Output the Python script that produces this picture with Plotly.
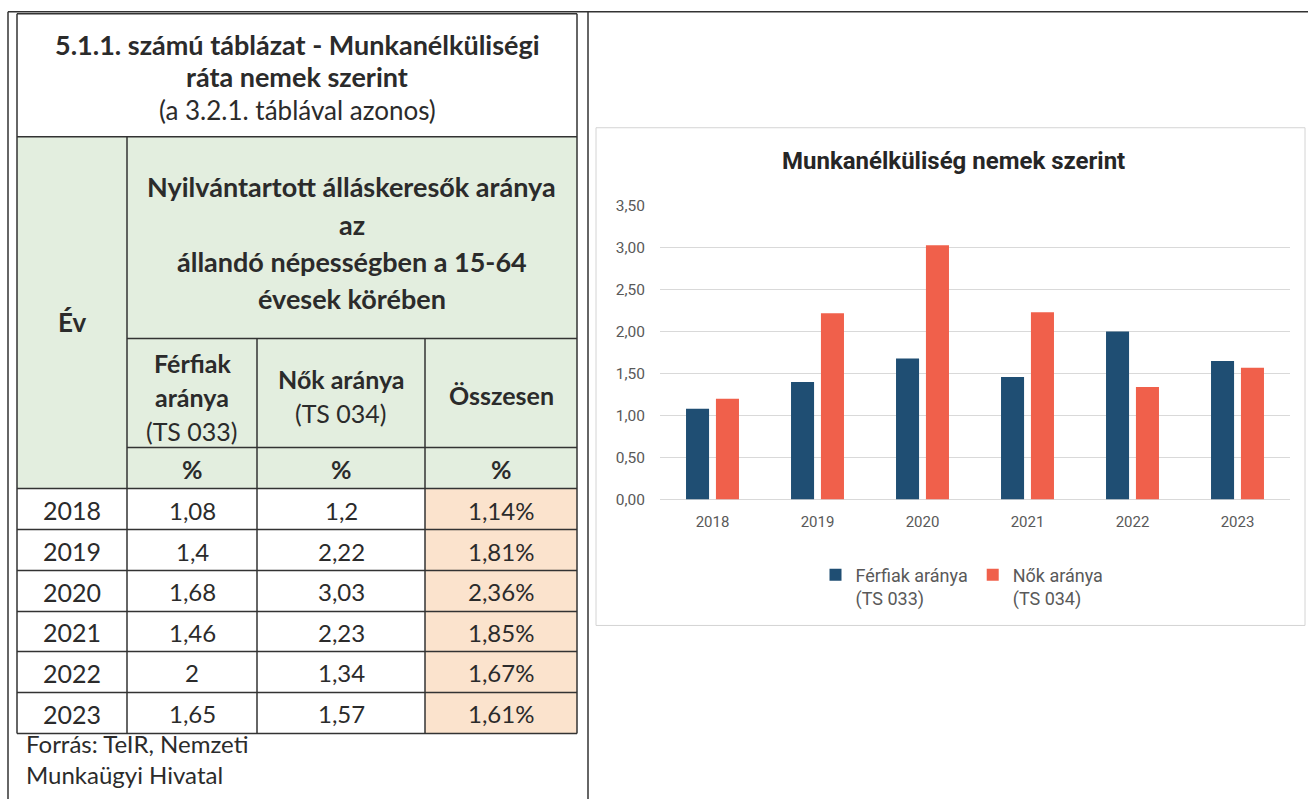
import plotly.graph_objects as go

# ---------------- data ----------------
years = ["2018", "2019", "2020", "2021", "2022", "2023"]
ferfiak = [1.08, 1.4, 1.68, 1.46, 2, 1.65]
nok = [1.2, 2.22, 3.03, 2.23, 1.34, 1.57]
osszesen = [1.14, 1.81, 2.36, 1.85, 1.67, 1.61]
y_tick_vals = [0, 0.5, 1.0, 1.5, 2.0, 2.5, 3.0, 3.5]

series_names = ["Férfiak aránya<br>(TS 033)", "Nők aránya<br>(TS 034)"]
chart_title = "Munkanélküliség nemek szerint"
table_title = ["5.1.1. számú táblázat - Munkanélküliségi", "ráta nemek szerint"]
table_subtitle = "(a 3.2.1. táblával azonos)"
header_main = ["Nyilvántartott álláskeresők aránya", "az",
               "állandó népességben a 15-64", "évesek körében"]
source_lines = ["Forrás: TeIR, Nemzeti", "Munkaügyi Hivatal"]

# ---------------- styling ----------------
W, H = 1308, 799
BLUE = "#1F4E73"
RED = "#F0604B"
GREEN = "#E3EEDF"
ORANGE = "#FBE3CD"
LINE = "#333333"
TXT = "#2b2b2b"
TFONT = "Lato, 'Open Sans', sans-serif"
CFONT = "Roboto, 'Liberation Sans', sans-serif"

# vertical calibration of the captured picture
SY, OY = 0.978, 8.2


def X(p):
    return p / W


def Y(p):
    return 1 - ((p - OY) / SY) / H


fig = go.Figure()
for vals, name, col in [(ferfiak, series_names[0], BLUE), (nok, series_names[1], RED)]:
    fig.add_trace(go.Bar(x=years, y=vals, name=name, marker_color=col,
                         marker_line_width=0, hoverinfo="x+y"))

shapes = []
ann = []


def line(x0, y0, x1, y1, w=1.5, c=LINE):
    shapes.append(dict(type="line", xref="paper", yref="paper",
                       x0=X(x0), y0=Y(y0), x1=X(x1), y1=Y(y1),
                       line=dict(color=c, width=w), layer="above"))


def rect(x0, y0, x1, y1, fill, lc="rgba(0,0,0,0)", lw=0):
    shapes.append(dict(type="rect", xref="paper", yref="paper",
                       x0=X(x0), y0=Y(y0), x1=X(x1), y1=Y(y1),
                       fillcolor=fill, line=dict(color=lc, width=lw), layer="below"))


def text(x, y, s, size=24, bold=False, anchor="center", color=TXT, font=TFONT):
    if bold:
        s = "<b>" + s + "</b>"
    ann.append(dict(xref="paper", yref="paper", x=X(x), y=Y(y), text=s,
                    showarrow=False, xanchor=anchor, yanchor="middle", borderpad=0,
                    font=dict(family=font, size=size, color=color)))


# ---------- table geometry ----------
cols = [17, 127, 257, 425, 577]
top, title_b, h1_b, h2_b, pct_b = 13, 136, 338, 447, 488
row_edges = [488, 529, 570, 611, 651, 692, 733]

rect(cols[0], title_b, cols[4], pct_b, GREEN)
for i in range(len(years)):
    rect(cols[3], row_edges[i], cols[4], row_edges[i + 1], ORANGE)

# chart box
rect(596, 127, 1305, 625, "white", lc="#d4d4d4", lw=1)

# outer frame
line(8, 11, 1308, 11, w=1.5)
line(8, 11, 8, 815, w=1.5)
line(588, 11, 588, 815, w=1.5)

# table lines
line(cols[0], top, cols[4], top)
line(cols[0], top, cols[0], row_edges[-1])
line(cols[4], top, cols[4], row_edges[-1])
line(cols[0], title_b, cols[4], title_b)
line(cols[1], h1_b, cols[4], h1_b)
line(cols[1], h2_b, cols[4], h2_b)
for r in row_edges:
    line(cols[0], r, cols[4], r)
line(cols[1], title_b, cols[1], row_edges[-1])
line(cols[2], h1_b, cols[2], row_edges[-1])
line(cols[3], h1_b, cols[3], row_edges[-1])

# table text
cx_all = (cols[0] + cols[4]) / 2
text(cx_all, 44, table_title[0], size=27, bold=True)
text(cx_all, 76, table_title[1], size=27, bold=True)
text(cx_all, 109, table_subtitle, size=26)
text((cols[0] + cols[1]) / 2, 321, "Év", size=26, bold=True)
hx = (cols[1] + cols[4]) / 2
for yy, s in zip([186, 224, 261, 298], header_main):
    text(hx, yy, s, size=27, bold=True)
c1 = (cols[1] + cols[2]) / 2
c2 = (cols[2] + cols[3]) / 2
c3 = (cols[3] + cols[4]) / 2
text(c1, 362, "Férfiak", size=25, bold=True)
text(c1, 396, "aránya", size=25, bold=True)
text(c1, 430, "(TS 033)", size=25)
text(c2, 378, "Nők aránya", size=25, bold=True)
text(c2, 412, "(TS 034)", size=25)
text(c3, 394, "Összesen", size=25, bold=True)
for c in (c1, c2, c3):
    text(c, 468, "%", size=25, bold=True)

c0 = (cols[0] + cols[1]) / 2


def fmt(v):
    return str(v).replace(".", ",")


for i, yr in enumerate(years):
    cy = (row_edges[i] + row_edges[i + 1]) / 2 + 1
    text(c0, cy, yr, size=25)
    text(c1, cy, fmt(ferfiak[i]), size=24)
    text(c2, cy, fmt(nok[i]), size=24)
    text(c3, cy, f"{osszesen[i]:.2f}%".replace(".", ","), size=24)

# source note: one two-line text block resting on the bottom edge
ann.append(dict(xref="paper", yref="paper", x=X(25), y=0, text="<br>".join(source_lines),
                showarrow=False, xanchor="left", yanchor="bottom", align="left",
                borderpad=0, font=dict(family=TFONT, size=24, color=TXT)))

# chart title
text(953, 160, chart_title, size=24, bold=True, color="#262626", font=CFONT)

fig.update_layout(
    width=W, height=H,
    margin=dict(l=0, r=0, t=0, b=0),
    paper_bgcolor="white", plot_bgcolor="rgba(0,0,0,0)",
    separators=", ",
    barmode="group", bargap=0.43, bargroupgap=0.23,
    shapes=shapes, annotations=ann,
    showlegend=True,
    legend=dict(orientation="h", x=X(962), xanchor="center", y=Y(556), yanchor="top",
                font=dict(family=CFONT, size=18, color="#595959"),
                valign="top", itemwidth=30, bgcolor="rgba(0,0,0,0)",
                traceorder="normal"),
    xaxis=dict(domain=[X(660), X(1290)], type="category", showgrid=False,
               showline=False, ticks="", ticklabelstandoff=11,
               tickfont=dict(family=CFONT, size=15, color="#595959"), fixedrange=True),
    yaxis=dict(domain=[Y(499), Y(205)], range=[0, 3.5], tickvals=y_tick_vals,
               tickformat=".2f", showgrid=True, gridcolor="#d9d9d9", gridwidth=1,
               zeroline=True, zerolinecolor="#d9d9d9", zerolinewidth=1,
               showline=False, ticks="", ticklabelstandoff=14,
               tickfont=dict(family=CFONT, size=15.5, color="#595959"), fixedrange=True),
)

post = ("document.documentElement.style.overflow='hidden';"
        "document.body.style.margin='0';document.body.style.overflow='hidden';"
        "var d=document.getElementById('{plot_id}');"
        "d.style.position='fixed';d.style.left='0px';d.style.top='0px';")

fig.write_html("out.html", config={"displayModeBar": False}, post_script=post)
